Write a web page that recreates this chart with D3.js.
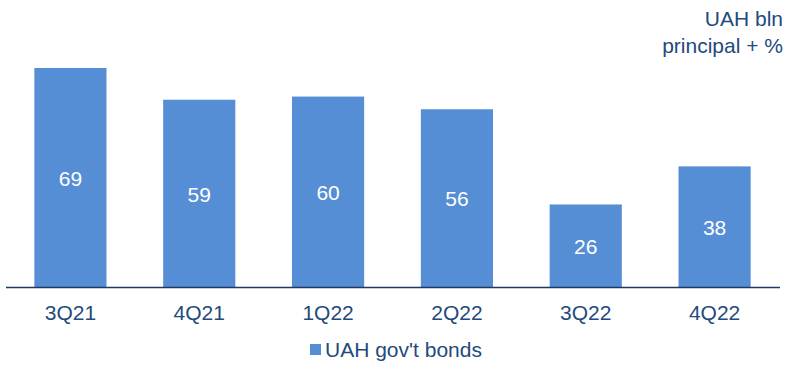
<!DOCTYPE html>
<html>
<head>
<meta charset="utf-8">
<script src="https://cdn.jsdelivr.net/npm/d3@7"></script>
<style>
  html, body { margin: 0; padding: 0; background: #ffffff; }
  svg { display: block; font-family: "Liberation Sans", Arial, sans-serif; }
</style>
</head>
<body>
<svg id="chart" width="787" height="367"></svg>
<script>
// Quarterly amounts of UAH government bonds (principal + interest), UAH bln
const quarters = ["3Q21", "4Q21", "1Q22", "2Q22", "3Q22", "4Q22"];
const bondValues = [69, 59, 60, 56, 26, 38];
const seriesName = "UAH gov't bonds";
const unitLines = ["UAH bln", "principal + %"];

const barColor = "#558ED5";
const textColor = "#234A7C";
const axisColor = "#1F3864";
const fontSize = 21;

const svg = d3.select("#chart");

const x = d3.scaleBand()
  .domain(quarters)
  .range([6, 779])
  .paddingInner(0.44)
  .paddingOuter(0.22);

const y = d3.scaleLinear()
  .domain([0, 69])
  .range([287, 68]);

const rows = quarters.map((q, i) => ({ q, v: bondValues[i] }));

// Bars
svg.append("g")
  .selectAll("rect")
  .data(rows)
  .join("rect")
  .attr("x", d => x(d.q))
  .attr("y", d => y(d.v))
  .attr("width", x.bandwidth())
  .attr("height", d => y(0) - y(d.v))
  .attr("fill", barColor);

// Value labels centred within each bar
svg.append("g")
  .selectAll("text")
  .data(rows)
  .join("text")
  .attr("x", d => x(d.q) + x.bandwidth() / 2)
  .attr("y", d => (y(d.v) + y(0)) / 2 + 1)
  .attr("dy", "0.35em")
  .attr("text-anchor", "middle")
  .attr("fill", "#ffffff")
  .attr("font-size", fontSize)
  .text(d => d.v);

// Category axis
const xAxis = svg.append("g")
  .attr("transform", `translate(0,${y(0)})`)
  .call(d3.axisBottom(x).tickSize(0).tickPadding(18));
xAxis.select(".domain")
  .attr("d", "M6,0.5H780")
  .attr("stroke", axisColor)
  .attr("stroke-width", 1.6);
xAxis.selectAll(".tick text")
  .attr("fill", textColor)
  .attr("font-size", fontSize)
  .attr("font-family", "Liberation Sans, Arial, sans-serif");

// Unit note, top right
svg.append("text")
  .attr("text-anchor", "end")
  .attr("fill", textColor)
  .attr("font-size", fontSize)
  .selectAll("tspan")
  .data(unitLines)
  .join("tspan")
  .attr("x", 783)
  .attr("y", (d, i) => 26 + i * 27)
  .text(d => d);

// Legend
const legend = svg.append("g").attr("transform", "translate(310,344)");
legend.append("rect")
  .attr("width", 11)
  .attr("height", 11)
  .attr("fill", barColor);
legend.append("text")
  .attr("x", 15)
  .attr("y", 5.5)
  .attr("dy", "0.35em")
  .attr("fill", textColor)
  .attr("font-size", fontSize)
  .text(seriesName);
</script>
</body>
</html>
